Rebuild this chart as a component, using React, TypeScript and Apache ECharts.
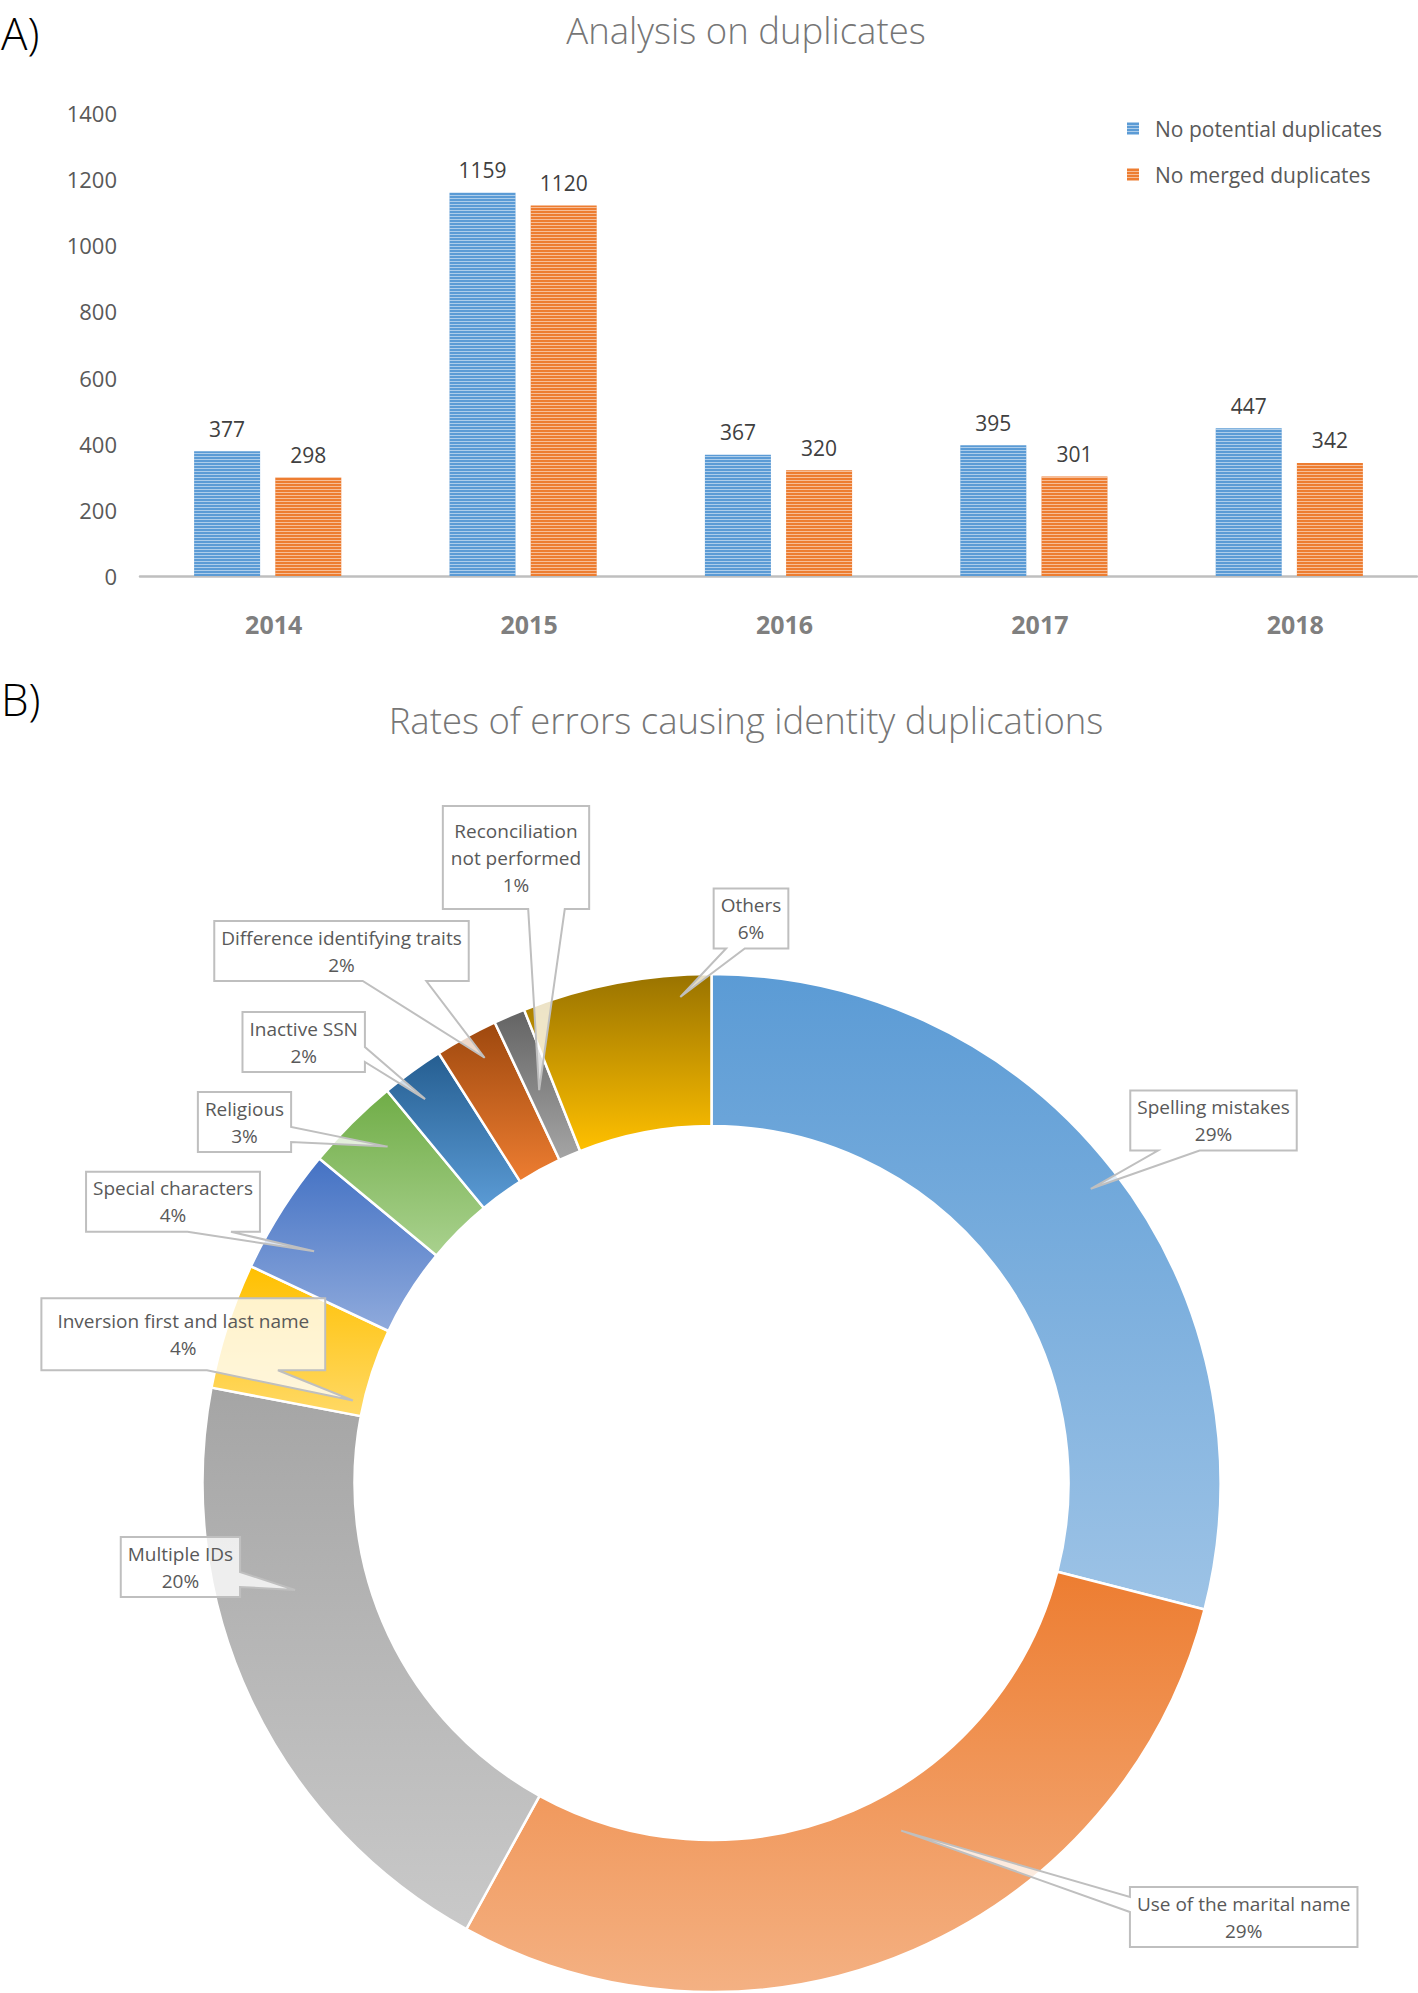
import React, { useEffect, useRef } from "react";
import * as echarts from "echarts";

// ---------- Data ----------
const years = ["2014", "2015", "2016", "2017", "2018"];
const potentialDuplicates = [377, 1159, 367, 395, 447];
const mergedDuplicates = [298, 1120, 320, 301, 342];
const barSeriesNames = ["No potential duplicates", "No merged duplicates"];
const yMin = 0;
const yMax = 1400;
const yInterval = 200;

const errorCategories = [
  "Spelling mistakes",
  "Use of the marital name",
  "Multiple IDs",
  "Inversion first and last name",
  "Special characters",
  "Religious",
  "Inactive SSN",
  "Difference identifying traits",
  "Reconciliation\nnot performed",
  "Others",
];
const errorRates = [29, 29, 20, 4, 4, 3, 2, 2, 1, 6];

// ---------- Styles / layout ----------
const FONT = '"Open Sans", "Noto Sans", sans-serif';
const sliceColors: [string, string][] = [
  ["#5b9bd5", "#9dc3e6"],
  ["#ed7d31", "#f4b183"],
  ["#a5a5a5", "#c9c9c9"],
  ["#ffc000", "#ffd966"],
  ["#4472c4", "#8faadc"],
  ["#70ad47", "#a9d18e"],
  ["#255e91", "#5b9bd5"],
  ["#9e480e", "#ed7d31"],
  ["#636363", "#a5a5a5"],
  ["#997300", "#ffc000"],
];
const PIE_CX = 711.5;
const PIE_CY = 1483;
const PIE_R0 = 357;
const PIE_R1 = 509;

// callout layout: box centre, tip position within slice, attaching side, padding
const callouts = [
  { x: 1213.5, y: 1120.5, frac: 0.5, r: 480, side: "bottom", pv: 3, ph: 7 },
  { x: 1243.7, y: 1917, frac: 0.45, r: 396, side: "left", pv: 3, ph: 7 },
  { x: 180.4, y: 1567, frac: 0.65, r: 430, side: "right", pv: 3, ph: 7 },
  { x: 183.3, y: 1334.3, frac: 0.15, r: 368, side: "bottom", pv: 9, ph: 16 },
  { x: 173, y: 1201.7, frac: 0.35, r: 460, side: "bottom", pv: 3, ph: 7 },
  { x: 244.5, y: 1122, frac: 0.6, r: 467, side: "right", pv: 3, ph: 7 },
  { x: 303.7, y: 1042, frac: 0.4, r: 479, side: "right", pv: 3, ph: 7 },
  { x: 341.5, y: 951, frac: 0.6, r: 482, side: "bottom", pv: 3, ph: 7 },
  { x: 516, y: 857.6, frac: 0.42, r: 429, side: "bottom", pv: 11, ph: 8 },
  { x: 751, y: 918.5, frac: 0.83, r: 487, side: "bottom", pv: 3, ph: 7 },
];

const LABEL_SIZE = 19;
const LABEL_LH = 27;

function measure(text: string, font: string): number {
  const c = document.createElement("canvas").getContext("2d");
  if (!c) return text.length * 9;
  c.font = font;
  return c.measureText(text).width;
}

function buildCallouts(): any[] {
  const total = errorRates.reduce((a, b) => a + b, 0);
  const els: any[] = [];
  let cum = 0;
  const font = `${LABEL_SIZE}px "Open Sans"`;
  errorRates.forEach((v, i) => {
    const start = (cum / total) * 360;
    const end = ((cum + v) / total) * 360;
    cum += v;
    const cfg = callouts[i];
    const a = ((start + (end - start) * cfg.frac) * Math.PI) / 180;
    const tip = [PIE_CX + cfg.r * Math.sin(a), PIE_CY - cfg.r * Math.cos(a)];
    const lines = (errorCategories[i] + "\n" + v + "%").split("\n");
    const w = Math.max(...lines.map((l) => measure(l, font))) + 2 * cfg.ph;
    const h = lines.length * LABEL_LH + 2 * cfg.pv;
    const x0 = cfg.x - w / 2;
    const x1 = cfg.x + w / 2;
    const y0 = cfg.y - h / 2;
    const y1 = cfg.y + h / 2;
    const lo = [1 / 6, 5 / 12];
    const hi = [7 / 12, 5 / 6];
    const pts: number[][] = [[x0, y0]];
    if (cfg.side === "top") {
      const f = tip[0] > cfg.x ? hi : lo;
      pts.push([x0 + w * f[0], y0], tip, [x0 + w * f[1], y0]);
    }
    pts.push([x1, y0]);
    if (cfg.side === "right") {
      const f = tip[1] > cfg.y ? hi : lo;
      pts.push([x1, y0 + h * f[0]], tip, [x1, y0 + h * f[1]]);
    }
    pts.push([x1, y1]);
    if (cfg.side === "bottom") {
      const f = tip[0] > cfg.x ? hi : lo;
      pts.push([x0 + w * f[1], y1], tip, [x0 + w * f[0], y1]);
    }
    pts.push([x0, y1]);
    if (cfg.side === "left") {
      const f = tip[1] > cfg.y ? hi : lo;
      pts.push([x0, y0 + h * f[1]], tip, [x0, y0 + h * f[0]]);
    }
    els.push({
      type: "polygon",
      z: 100,
      shape: { points: pts },
      style: { fill: "rgba(255,255,255,0.78)", stroke: "#bfbfbf", lineWidth: 2 },
    });
    els.push({
      type: "text",
      z: 101,
      style: {
        text: lines.join("\n"),
        x: cfg.x,
        y: cfg.y,
        align: "center",
        textAlign: "center",
        verticalAlign: "middle",
        textVerticalAlign: "middle",
        fontSize: LABEL_SIZE,
        fontFamily: FONT,
        lineHeight: LABEL_LH,
        fill: "#595959",
      },
    });
  });
  return els;
}

function heading(text: string, x: number, y: number, size: number, color: string, align = "center", weight: any = 300) {
  return {
    type: "text",
    z: 100,
    style: {
      text,
      x,
      y,
      align,
      textAlign: align,
      verticalAlign: "middle",
      textVerticalAlign: "middle",
      fontSize: size,
      fontFamily: FONT,
      fontWeight: weight,
      fill: color,
    },
  };
}

const stripeDecal = {
  symbol: "rect",
  symbolSize: 1,
  dashArrayX: [1, 0],
  dashArrayY: [1, 2],
  rotation: 0,
  color: "rgba(255,255,255,0.5)",
};

export default function App() {
  const ref = useRef<HTMLDivElement>(null);
  useEffect(() => {
    if (!ref.current) return;
    const chart = echarts.init(ref.current, null, { renderer: "svg" });
    const option: any = {
      animation: false,
      backgroundColor: "#ffffff",
      textStyle: { fontFamily: FONT },
      legend: {
        orient: "vertical",
        left: 1127,
        top: 118,
        padding: 0,
        itemGap: 25,
        itemWidth: 12,
        itemHeight: 13,
        icon: "rect",
        data: barSeriesNames,
        textStyle: { fontSize: 21, color: "#595959", fontFamily: FONT, padding: [0, 0, 0, 11] },
      },
      grid: { left: 140, right: 1, top: 113, height: 463, containLabel: false },
      xAxis: {
        type: "category",
        data: years,
        axisLine: { lineStyle: { color: "#bfbfbf", width: 2.5 } },
        axisTick: { show: false },
        axisLabel: {
          fontSize: 25,
          fontWeight: "bold",
          color: "#7f7f7f",
          margin: 35,
          fontFamily: FONT,
          padding: [0, 0, 0, 12],
        },
      },
      yAxis: {
        type: "value",
        min: yMin,
        max: yMax,
        interval: yInterval,
        splitLine: { show: false },
        axisLine: { show: false },
        axisTick: { show: false },
        axisLabel: {
          fontSize: 22,
          color: "#595959",
          margin: 23,
          fontFamily: FONT,
          formatter: (v: number) => String(v),
        },
      },
      series: [
        {
          name: barSeriesNames[0],
          type: "bar",
          data: potentialDuplicates,
          barWidth: 66,
          barGap: "23%",
          itemStyle: { color: "#5b9bd5", decal: stripeDecal },
          label: { show: true, position: "top", distance: 12, fontSize: 21, color: "#404040", fontFamily: FONT },
        },
        {
          name: barSeriesNames[1],
          type: "bar",
          data: mergedDuplicates,
          barWidth: 66,
          barGap: "23%",
          itemStyle: { color: "#ed7d31", decal: stripeDecal },
          label: { show: true, position: "top", distance: 12, fontSize: 21, color: "#404040", fontFamily: FONT },
        },
        {
          name: "Rates of errors",
          type: "pie",
          center: [PIE_CX, PIE_CY],
          radius: [PIE_R0, PIE_R1],
          startAngle: 90,
          clockwise: true,
          label: { show: false },
          labelLine: { show: false },
          emphasis: { disabled: true },
          itemStyle: { borderColor: "#ffffff", borderWidth: 2.5 },
          data: errorCategories.map((name, i) => ({
            name,
            value: errorRates[i],
            itemStyle: {
              color: {
                type: "linear",
                x: 0,
                y: 0,
                x2: 0,
                y2: 1,
                colorStops: [
                  { offset: 0, color: sliceColors[i][0] },
                  { offset: 1, color: sliceColors[i][1] },
                ],
              },
            },
          })),
        },
      ],
      graphic: [
        heading("A)", 1, 33, 44, "#000000", "left", 300),
        heading("Analysis on duplicates", 746, 30, 36.5, "#767676"),
        heading("B)", 1, 699, 44, "#000000", "left", 300),
        heading("Rates of errors causing identity duplications", 746, 720, 36.5, "#767676"),
        ...buildCallouts(),
      ],
    };
    chart.setOption(option);
    return () => chart.dispose();
  }, []);
  return (
    <div
      ref={ref}
      style={{ position: "absolute", left: 0, top: 0, width: 1418, height: 1993, background: "#fff" }}
    />
  );
}
